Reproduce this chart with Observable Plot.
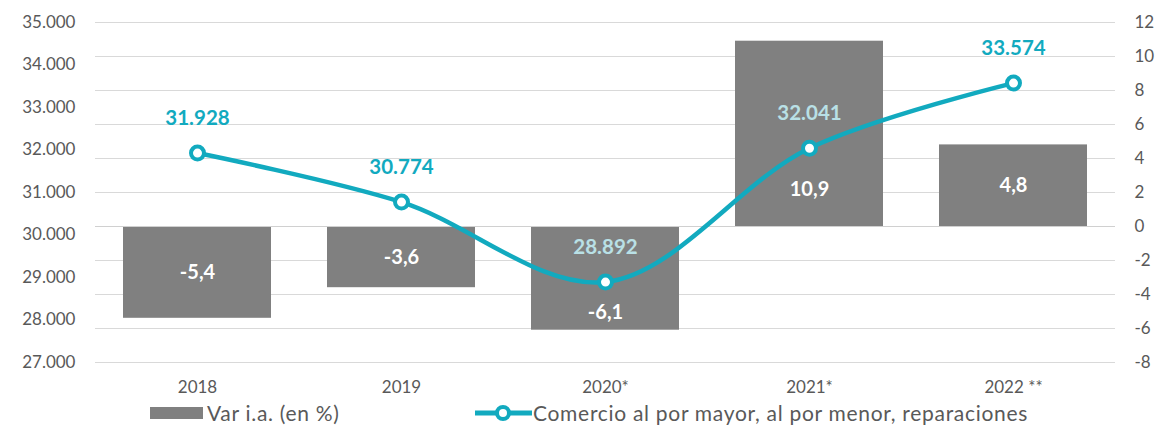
<!DOCTYPE html>
<html>
<head>
<meta charset="utf-8">
<script src="https://cdn.jsdelivr.net/npm/d3@7"></script>
<script src="https://cdn.jsdelivr.net/npm/@observablehq/plot@0.6"></script>
<style>
  body { margin: 0; background: #fff; font-family: Lato, "Liberation Sans", sans-serif; }
  #wrap { position: relative; width: 1158px; height: 425px; }
  #legend { position: absolute; top: 400px; left: 0; width: 1158px; height: 25px; font-size: 21px; letter-spacing: 0.7px; color: #595959; }
  .li { position: absolute; top: 0; display: flex; align-items: center; height: 25px; }
</style>
</head>
<body>
<div id="wrap">
  <div id="chart"></div>
  <div id="legend">
    <div class="li" style="left:150px"><svg width="53" height="12"><rect width="53" height="12" fill="#808080"/></svg><span style="margin-left:4px">Var i.a. (en %)</span></div>
    <div class="li" style="left:475px"><svg width="58" height="20"><line x1="0" y1="10" x2="57" y2="10" stroke="#12AABF" stroke-width="5"/><circle cx="28" cy="10" r="6" fill="#fff" stroke="#12AABF" stroke-width="4"/></svg><span>Comercio al por mayor, al por menor, reparaciones</span></div>
  </div>
</div>
<script>
const years = ["2018", "2019", "2020*", "2021*", "2022 **"];
const comercio = [31928, 30774, 28892, 32041, 33574];
const varPct = [-5.4, -3.6, -6.1, 10.9, 4.8];
const leftTicks = [27000, 28000, 29000, 30000, 31000, 32000, 33000, 34000, 35000];
const rightTicks = [-8, -6, -4, -2, 0, 2, 4, 6, 8, 10, 12];

const es = d3.formatLocale({decimal: ",", thousands: ".", grouping: [3], currency: ["", "€"], minus: "-"});
const fmtInt = es.format(",.0f");
const fmtPct = es.format(".1f");

// right axis (-8..12) mapped onto left domain (27000..35000)
const toLeft = v => 27000 + (v + 8) * 400;

const data = years.map((y, i) => ({year: y, value: comercio[i], pct: varPct[i], lightLabel: i === 2 || i === 3}));

const cyan = "#12AABF";

const chart = Plot.plot({
  width: 1158,
  height: 398,
  marginLeft: 95,
  marginRight: 43,
  marginTop: 22,
  marginBottom: 36,
  style: {fontFamily: "Lato, 'Liberation Sans', sans-serif", background: "#fff"},
  x: {domain: years, paddingInner: 0.275, paddingOuter: 0.1375, label: null},
  y: {domain: [27000, 35000], label: null},
  marks: [
    Plot.ruleY(rightTicks.map(toLeft), {stroke: "#d9d9d9", strokeWidth: 1}),
    Plot.axisY(leftTicks, {anchor: "left", tickSize: 0, tickPadding: 20, tickFormat: fmtInt, fontSize: 17, fill: "#595959", label: null}),
    Plot.axisY(rightTicks.map(toLeft), {anchor: "right", tickSize: 0, tickPadding: 19, tickFormat: d => String(Math.round((d - 27000) / 400 - 8)), fontSize: 17, fill: "#595959", textAnchor: "start", label: null}),
    Plot.axisX({tickSize: 0, tickPadding: 18, fontSize: 17, fill: "#595959", label: null}),
    Plot.barY(data, {x: "year", y1: toLeft(0), y2: d => toLeft(d.pct), fill: "#808080"}),
    Plot.ruleY([toLeft(0)], {stroke: "#d0d0d0", strokeWidth: 1}),
    Plot.tickY(years.slice(1), {x: d => d, y: toLeft(0), dx: -102, stroke: "#d0d0d0"}),
    Plot.text(data.filter(d => !d.lightLabel), {x: "year", y: d => toLeft(d.pct / 2), text: d => fmtPct(d.pct), fill: "#fff", fontWeight: "bold", fontSize: 20}),
    Plot.text(data.filter(d => d.year === "2020*"), {x: "year", y: d => toLeft(d.pct), text: d => fmtPct(d.pct), fill: "#fff", fontWeight: "bold", fontSize: 20, dy: -18}),
    Plot.text(data.filter(d => d.year === "2021*"), {x: "year", y: toLeft(0), text: d => fmtPct(d.pct), fill: "#fff", fontWeight: "bold", fontSize: 20, dy: -37}),
    Plot.line(data, {x: "year", y: "value", stroke: cyan, strokeWidth: 4.5, curve: "catmull-rom"}),
    Plot.dot(data, {x: "year", y: "value", r: 6.5, fill: "#fff", stroke: cyan, strokeWidth: 4}),
    Plot.text(data, {x: "year", y: "value", text: d => fmtInt(d.value), fill: d => d.lightLabel ? "#B9E0E6" : cyan, fontWeight: "bold", fontSize: 20.5, dy: -35})
  ]
});
document.getElementById("chart").appendChild(chart);
</script>
</body>
</html>
